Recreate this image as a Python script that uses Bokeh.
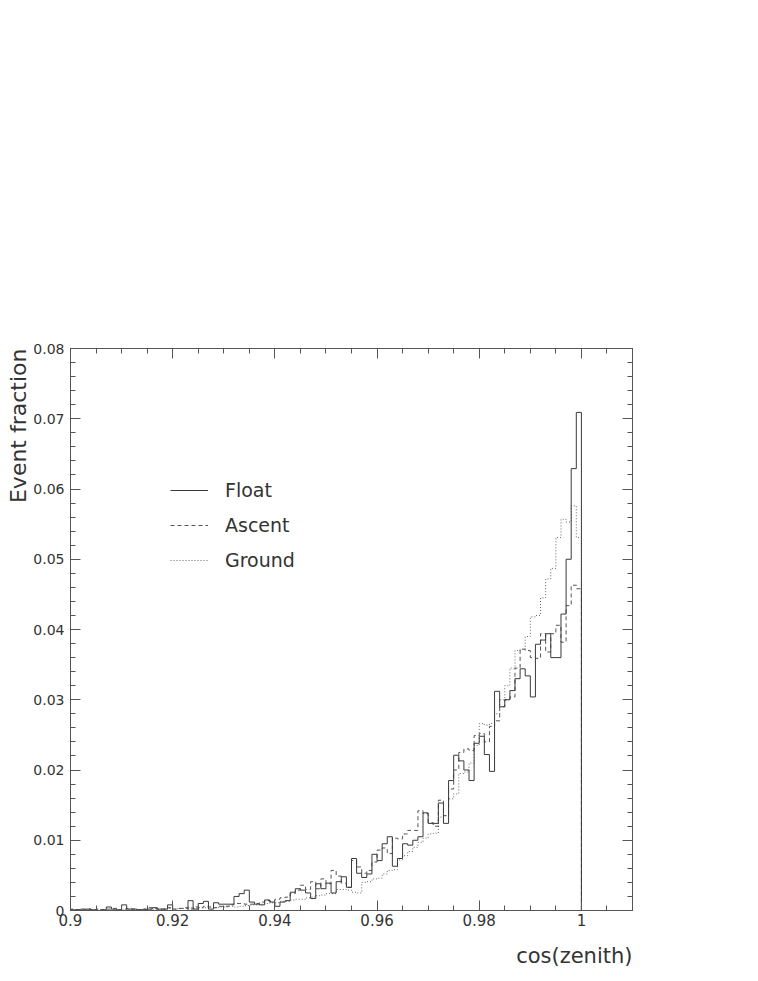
import numpy as np
from bokeh.plotting import figure
from bokeh.models import Range1d, FixedTicker, LinearAxis, CustomJSTickFormatter, Title
from bokeh.embed import file_html
from bokeh.resources import INLINE

# ---------------- data ----------------
bin_low = 0.9
bin_width = 0.001
n_bins = 100

float_frac = [
    0.0001, 0.0001, 0.0002, 0.0002, 0.0001, 0.0000, 0.0001, 0.0005, 0.0002, 0.0001,
    0.0008, 0.0002, 0.0002, 0.0001, 0.0001, 0.0002, 0.0004, 0.0002, 0.0002, 0.0008,
    0.0000, 0.0000, 0.0000, 0.0014, 0.0002, 0.0010, 0.0013, 0.0002, 0.0011, 0.0009,
    0.0009, 0.0009, 0.0020, 0.0024, 0.0029, 0.0012, 0.0009, 0.0008, 0.0015, 0.0012,
    0.0006, 0.0012, 0.0014, 0.0026, 0.0031, 0.0029, 0.0025, 0.0017, 0.0038, 0.0031,
    0.0039, 0.0025, 0.0041, 0.0048, 0.0033, 0.0074, 0.0053, 0.0047, 0.0052, 0.0080,
    0.0071, 0.0095, 0.0105, 0.0063, 0.0074, 0.0095, 0.0093, 0.0100, 0.0105, 0.0139,
    0.0124, 0.0124, 0.0153, 0.0124, 0.0185, 0.0221, 0.0213, 0.0200, 0.0185, 0.0238,
    0.0248, 0.0222, 0.0198, 0.0312, 0.0290, 0.0300, 0.0313, 0.0330, 0.0344, 0.0334,
    0.0304, 0.0379, 0.0385, 0.0394, 0.0360, 0.0360, 0.0422, 0.0500, 0.0629, 0.0709,
]

ascent_frac = [
    0.0002, 0.0001, 0.0001, 0.0002, 0.0001, 0.0002, 0.0001, 0.0002, 0.0003, 0.0001,
    0.0002, 0.0003, 0.0002, 0.0001, 0.0002, 0.0004, 0.0003, 0.0002, 0.0002, 0.0004,
    0.0002, 0.0003, 0.0004, 0.0002, 0.0005, 0.0004, 0.0006, 0.0005, 0.0004, 0.0006,
    0.0006, 0.0008, 0.0010, 0.0010, 0.0009, 0.0009, 0.0010, 0.0012, 0.0014, 0.0013,
    0.0016, 0.0018, 0.0019, 0.0024, 0.0029, 0.0036, 0.0030, 0.0041, 0.0031, 0.0045,
    0.0038, 0.0057, 0.0049, 0.0039, 0.0033, 0.0071, 0.0062, 0.0053, 0.0057, 0.0069,
    0.0086, 0.0089, 0.0081, 0.0103, 0.0102, 0.0109, 0.0114, 0.0114, 0.0142, 0.0138,
    0.0125, 0.0120, 0.0157, 0.0135, 0.0173, 0.0200, 0.0225, 0.0230, 0.0228, 0.0249,
    0.0252, 0.0240, 0.0262, 0.0270, 0.0290, 0.0300, 0.0304, 0.0345, 0.0372, 0.0370,
    0.0360, 0.0359, 0.0394, 0.0368, 0.0394, 0.0406, 0.0382, 0.0434, 0.0463, 0.0458,
]

ground_frac = [
    0.0000, 0.0001, 0.0000, 0.0001, 0.0000, 0.0001, 0.0001, 0.0000, 0.0001, 0.0001,
    0.0001, 0.0001, 0.0002, 0.0001, 0.0002, 0.0002, 0.0001, 0.0002, 0.0002, 0.0003,
    0.0002, 0.0003, 0.0003, 0.0004, 0.0003, 0.0004, 0.0004, 0.0005, 0.0004, 0.0005,
    0.0005, 0.0006, 0.0005, 0.0006, 0.0007, 0.0008, 0.0008, 0.0009, 0.0010, 0.0011,
    0.0011, 0.0013, 0.0013, 0.0015, 0.0016, 0.0016, 0.0018, 0.0019, 0.0021, 0.0022,
    0.0024, 0.0024, 0.0030, 0.0030, 0.0029, 0.0026, 0.0025, 0.0040, 0.0041, 0.0045,
    0.0046, 0.0052, 0.0057, 0.0058, 0.0072, 0.0078, 0.0084, 0.0090, 0.0097, 0.0103,
    0.0109, 0.0110, 0.0133, 0.0135, 0.0159, 0.0166, 0.0195, 0.0197, 0.0210, 0.0235,
    0.0266, 0.0264, 0.0266, 0.0280, 0.0300, 0.0320, 0.0345, 0.0370, 0.0372, 0.0390,
    0.0418, 0.0420, 0.0445, 0.0472, 0.0487, 0.0531, 0.0557, 0.0553, 0.0576, 0.0531,
]

series_names = ["Float", "Ascent", "Ground"]

x_major_ticks = [0.9, 0.92, 0.94, 0.96, 0.98, 1.0]
x_minor_ticks = [round(0.9 + 0.005 * i, 4) for i in range(23)]
y_major_ticks = [0.0, 0.01, 0.02, 0.03, 0.04, 0.05, 0.06, 0.07, 0.08]
y_minor_ticks = [round(0.002 * i, 4) for i in range(41)]

x_title = "cos(zenith)"
y_title = "Event fraction"

# ---------------- figure ----------------
FONT = "DejaVu Sans"
TXT = "#333333"
AX = "#555555"

p = figure(
    frame_width=562, frame_height=562,
    x_range=Range1d(0.9, 1.01), y_range=Range1d(0.0, 0.08),
    output_backend="svg", toolbar_location=None,
    min_border_left=70, min_border_top=348, min_border_right=40, min_border_bottom=62,
    background_fill_color="white", border_fill_color="white",
)
p.outline_line_color = AX
p.outline_line_width = 1
p.xgrid.visible = False
p.ygrid.visible = False

fmt = CustomJSTickFormatter(code="const v = Math.round(tick*1000)/1000; return v.toString();")
blank = CustomJSTickFormatter(code="return '';")


def style_axis(ax, major, minor, labels, size="15px"):
    ax.ticker = FixedTicker(ticks=major, minor_ticks=minor)
    ax.formatter = fmt if labels else blank
    ax.axis_line_color = AX
    ax.major_tick_line_color = AX
    ax.minor_tick_line_color = AX
    ax.major_tick_in = 10
    ax.major_tick_out = 0
    ax.minor_tick_in = 5
    ax.minor_tick_out = 0
    ax.major_label_text_font = FONT
    ax.major_label_text_font_size = size
    ax.major_label_text_color = TXT


style_axis(p.xaxis[0], x_major_ticks, x_minor_ticks, True, "15px")
p.xaxis[0].major_label_standoff = 3
style_axis(p.yaxis[0], y_major_ticks, y_minor_ticks, True, "14px")
p.yaxis[0].major_label_standoff = 6

top_ax = LinearAxis()
style_axis(top_ax, x_major_ticks, x_minor_ticks, False)
p.add_layout(top_ax, "above")
right_ax = LinearAxis()
style_axis(right_ax, y_major_ticks, y_minor_ticks, False)
p.add_layout(right_ax, "right")

# histogram outlines
edges = np.round(bin_low + bin_width * np.arange(n_bins + 1), 4)
step_x = np.repeat(edges, 2)


def step_y(vals):
    return np.concatenate([[0.0], np.repeat(np.asarray(vals, dtype=float), 2), [0.0]])


styles = [
    (ground_frac, "Ground", "#666666", "1 2"),
    (ascent_frac, "Ascent", "#555555", "4 3"),
    (float_frac, "Float", "#3a3a3a", "solid"),
]
for vals, name, col, dash in styles:
    p.line(step_x, step_y(vals), line_color=col, line_width=1,
           line_dash=dash, legend_label=name)

leg = p.legend[0]
leg.items = sorted(leg.items, key=lambda it: series_names.index(it.label.value))
leg.location = (100, 338)
leg.background_fill_alpha = 0
leg.border_line_alpha = 0
leg.glyph_width = 38
leg.glyph_height = 24
leg.label_height = 24
leg.spacing = 11
leg.padding = 0
leg.margin = 0
leg.label_standoff = 17
leg.label_text_font = FONT
leg.label_text_font_size = "19px"
leg.label_text_color = TXT

# axis titles
p.add_layout(Title(text=x_title, align="right", text_font=FONT, text_font_size="21px",
                   text_color=TXT, text_font_style="normal", standoff=26), "below")
p.add_layout(Title(text=y_title, align="right", text_font=FONT, text_font_size="22px",
                   text_color=TXT, text_font_style="normal", standoff=0), "left")

open("out.html", "w").write(file_html(p, INLINE))
